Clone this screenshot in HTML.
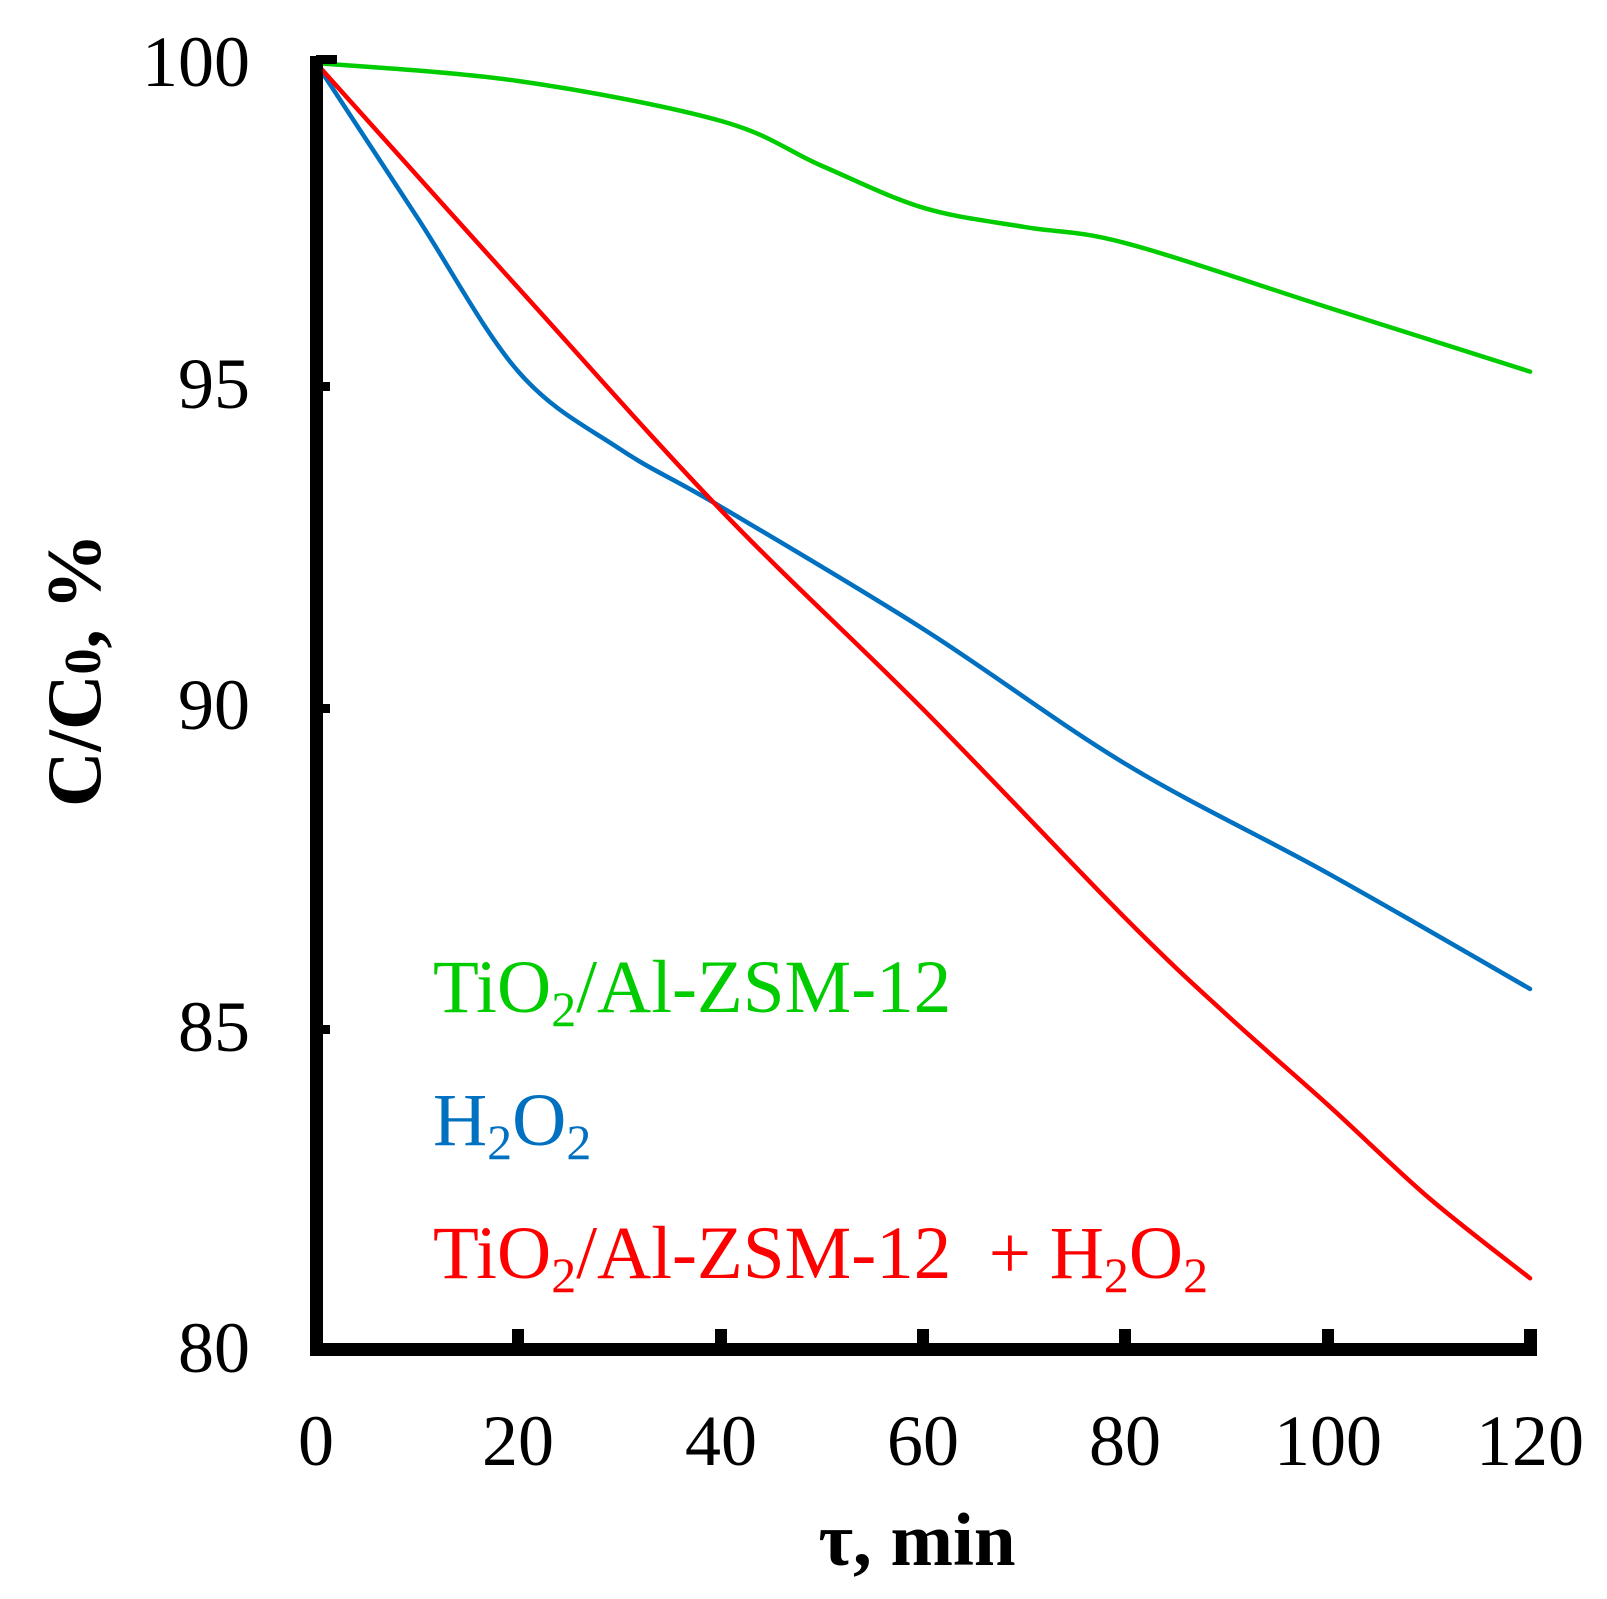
<!DOCTYPE html>
<html><head><meta charset="utf-8"><style>
html,body{margin:0;padding:0;background:#fff;}
svg{display:block;}
text{font-family:"Liberation Serif",serif;}
</style></head><body>
<svg id="s" width="1607" height="1599" viewBox="0 0 1607 1599" xmlns="http://www.w3.org/2000/svg">
<g id="curves" fill="none" stroke-width="4.5" stroke-linejoin="round" stroke-linecap="round"></g>
<!-- axes -->
<rect x="310" y="56" width="13" height="1300" fill="#000"/>
<rect x="310" y="1343" width="1227" height="13" fill="#000"/>
<rect x="316" y="55" width="21" height="9" fill="#000"/>
<g fill="#000">
<rect x="316" y="382" width="14" height="9"/>
<rect x="316" y="704" width="14" height="9"/>
<rect x="316" y="1025" width="14" height="9"/>
<rect x="512" y="1329" width="12" height="20"/>
<rect x="715" y="1329" width="12" height="20"/>
<rect x="917" y="1329" width="12" height="20"/>
<rect x="1119" y="1329" width="12" height="20"/>
<rect x="1322" y="1329" width="12" height="20"/>
<rect x="1524" y="1329" width="13" height="20"/>
</g>
<g font-size="72" text-anchor="end" fill="#000">
<text x="250" y="86">100</text>
<text x="250" y="408">95</text>
<text x="250" y="729">90</text>
<text x="250" y="1051">85</text>
<text x="250" y="1372">80</text>
</g>
<g font-size="72" text-anchor="middle" fill="#000">
<text x="316" y="1465">0</text>
<text x="518" y="1465">20</text>
<text x="721" y="1465">40</text>
<text x="923" y="1465">60</text>
<text x="1125" y="1465">80</text>
<text x="1328" y="1465">100</text>
<text x="1530" y="1465">120</text>
</g>
<text x="917" y="1565" font-size="75" font-weight="bold" text-anchor="middle">τ, min</text>
<text transform="translate(100,670) rotate(-90)" font-size="77" font-weight="bold" text-anchor="middle">C/C<tspan font-size="52">0</tspan>, %</text>
<g font-size="75">
<text x="433" y="1012" fill="#00cc00">TiO<tspan font-size="50" dy="14">2</tspan><tspan dy="-14">/Al-ZSM-12</tspan></text>
<text x="433" y="1145" fill="#0070c0">H<tspan font-size="50" dy="14">2</tspan><tspan dy="-14">O</tspan><tspan font-size="50" dy="14">2</tspan></text>
<text x="433" y="1278" fill="#ff0000">TiO<tspan font-size="50" dy="14">2</tspan><tspan dy="-14">/Al-ZSM-12&#160; + H</tspan><tspan font-size="50" dy="14">2</tspan><tspan dy="-14">O</tspan><tspan font-size="50" dy="14">2</tspan></text>
</g>
</svg>
<script>
function X(t){return 316+10.117*t;}
function Y(v){return 63+(100-v)*64.3;}
function path(d){
  var p=d.map(function(a){return [X(a[0]),Y(a[1])];});
  var s="M"+p[0][0]+","+p[0][1];
  for(var i=0;i<p.length-1;i++){
    var p0=p[i-1]||p[i],p1=p[i],p2=p[i+1],p3=p[i+2]||p2;
    var c1=[p1[0]+(p2[0]-p0[0])/6,p1[1]+(p2[1]-p0[1])/6];
    var c2=[p2[0]-(p3[0]-p1[0])/6,p2[1]-(p3[1]-p1[1])/6];
    s+=" C"+c1+" "+c2+" "+p2;
  }
  return s;
}
var series=[
 ["#00cc00",[[0,100],[20,99.72],[40,99.1],[50,98.4],[60,97.75],[70,97.45],[80,97.2],[100,96.2],[120,95.2]]],
 ["#0070c0",[[0,100],[10,97.6],[20,95.2],[30,94],[40,93.1],[60,91.2],[80,89.1],[100,87.4],[120,85.6]]],
 ["#ff0000",[[0,100],[20,96.5],[40,93.05],[60,89.95],[80,86.7],[90,85.2],[100,83.8],[110,82.35],[120,81.1]]]
];
var g=document.getElementById("curves");
series.forEach(function(s){
  var e=document.createElementNS("http://www.w3.org/2000/svg","path");
  e.setAttribute("d",path(s[1]));e.setAttribute("stroke",s[0]);g.appendChild(e);
});
</script>
</body></html>
